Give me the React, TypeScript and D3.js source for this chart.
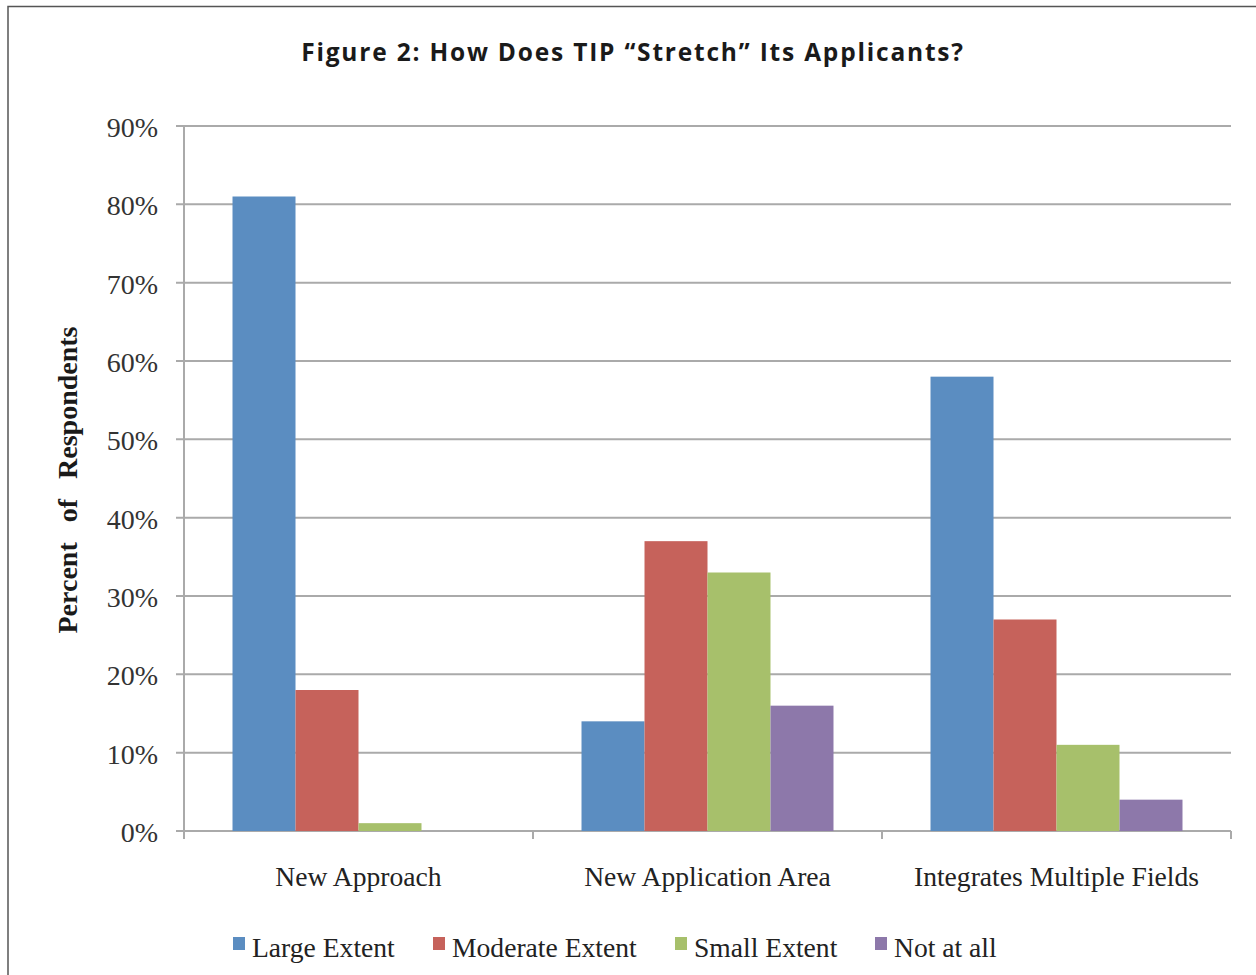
import React from "react";
import * as d3 from "d3";

const categories = ["New Approach", "New Application Area", "Integrates Multiple Fields"];
const seriesNames = ["Large Extent", "Moderate Extent", "Small Extent", "Not at all"];
const largeExtent = [81, 14, 58];
const moderateExtent = [18, 37, 27];
const smallExtent = [1, 33, 11];
const notAtAll = [0, 16, 4];
const yTicks = [0, 10, 20, 30, 40, 50, 60, 70, 80, 90];
const colors = ["#5b8dc1", "#c6625b", "#a7c06b", "#8d78aa"];

const seriesValues = [largeExtent, moderateExtent, smallExtent, notAtAll];

export default function App() {
  const W = 1256, H = 975;
  const left = 184, right = 1231, top = 126, bottom = 831;
  const x0 = d3.scaleBand().domain(categories).range([left, right]).paddingInner(0).paddingOuter(0);
  const x1 = d3.scaleBand().domain(seriesNames).range([0, x0.bandwidth()]).paddingInner(0).paddingOuter(0.77);
  const y = d3.scaleLinear().domain([0, 90]).range([bottom, top]);
  const serif = "'Liberation Serif', 'Times New Roman', serif";
  const legendX = [233, 433, 675, 875];
  return (
    <svg width={W} height={H} style={{ position: "absolute", left: 0, top: 0, background: "#fff" }}>
      <rect x={8} y={6.5} width={1300} height={1000} fill="none" stroke="#555" strokeWidth={1.5} />
      <text x={633} y={61} textAnchor="middle" fontFamily="'Open Sans', sans-serif" fontWeight={700} fontSize={24.5} letterSpacing={1.8} fill="#1a1a1a">
        Figure 2: How Does TIP “Stretch” Its Applicants?
      </text>
      {yTicks.map((t) => (
        <g key={t}>
          <line x1={176} x2={right} y1={y(t)} y2={y(t)} stroke="#aaaaaa" strokeWidth={2} />
          <text x={158} y={y(t) + 11} textAnchor="end" fontFamily={serif} fontSize={28} fill="#333">{t}%</text>
        </g>
      ))}
      <line x1={left} x2={left} y1={top} y2={bottom + 8} stroke="#aaaaaa" strokeWidth={2} />
      {[...categories.map((c) => x0(c)!), right].map((xv, i) => (
        <line key={i} x1={xv} x2={xv} y1={bottom} y2={bottom + 8} stroke="#aaaaaa" strokeWidth={2} />
      ))}
      {categories.map((c, ci) => (
        <g key={c}>
          {seriesValues.map((vals, si) => (
            vals[ci] > 0 ? (
              <rect key={si} x={x0(c)! + x1(seriesNames[si])!} width={x1.bandwidth()} y={y(vals[ci])} height={bottom - y(vals[ci])} fill={colors[si]} />
            ) : null
          ))}
          <text x={x0(c)! + x0.bandwidth() / 2} y={886} textAnchor="middle" fontFamily={serif} fontSize={27.6} fill="#222">{c}</text>
        </g>
      ))}
      <text transform="translate(77,480) rotate(-90)" textAnchor="middle" fontFamily={serif} fontWeight={700} fontSize={28} fill="#1a1a1a" wordSpacing={13}>
        Percent of Respondents
      </text>
      {seriesNames.map((s, i) => (
        <g key={s}>
          <rect x={legendX[i]} y={937} width={12} height={13} fill={colors[i]} />
          <text x={legendX[i] + 19} y={957} fontFamily={serif} fontSize={27.6} fill="#222">{s}</text>
        </g>
      ))}
    </svg>
  );
}
